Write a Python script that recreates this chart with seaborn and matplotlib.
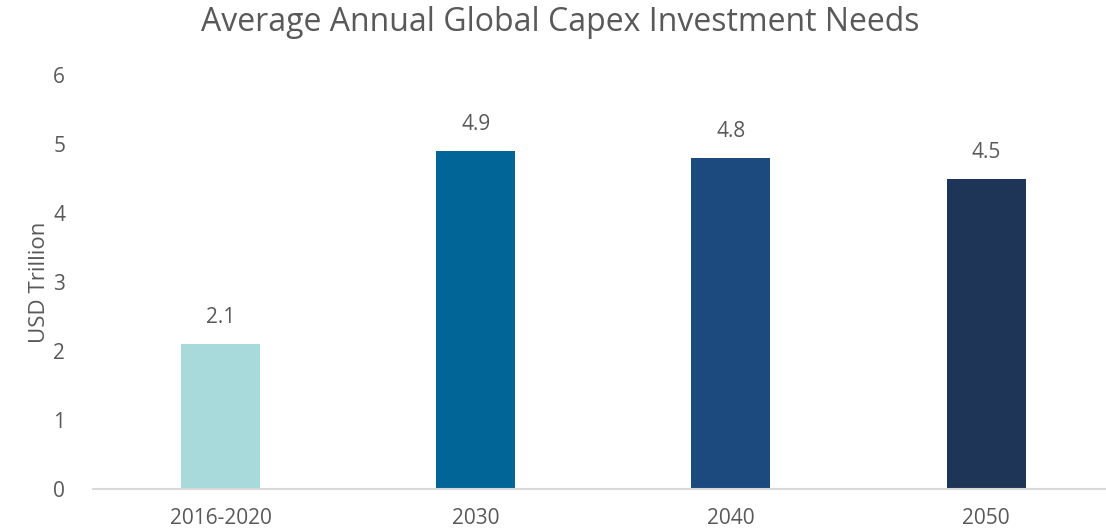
import matplotlib
matplotlib.use("Agg")
import matplotlib.pyplot as plt
import seaborn as sns
import pandas as pd

categories = ["2016-2020", "2030", "2040", "2050"]
values = [2.1, 4.9, 4.8, 4.5]
bar_colors = ["#A8DADC", "#026597", "#1C497E", "#1F3557"]
y_ticks = [0, 1, 2, 3, 4, 5, 6]

sns.set_theme(style="white")
plt.rcParams["font.family"] = ["Open Sans", "DejaVu Sans"]
text_color = "#595959"

df = pd.DataFrame({"period": categories, "usd": values})

fig = plt.figure(figsize=(11.06, 5.32), dpi=100)
ax = fig.add_axes([0.0841, 0.0808, 0.9159, 0.778])

sns.barplot(data=df, x="period", y="usd", hue="period", palette=bar_colors,
            width=0.31, legend=False, ax=ax, saturation=1, linewidth=0)

for i, v in enumerate(values):
    ax.annotate(f"{v}", (i, v), xytext=(0, 19), textcoords="offset points",
                ha="center", va="center", fontsize=15, color=text_color)

ax.set_ylim(0, 6)
ax.set_xlim(-0.5, 3.47)
ax.set_yticks(y_ticks)
ax.set_yticklabels([str(t) for t in y_ticks])
ax.tick_params(axis="both", length=0, labelsize=15, colors=text_color)
ax.tick_params(axis="x", pad=14)
ax.tick_params(axis="y", pad=20)
ax.set_xlabel("")
ax.set_ylabel("USD Trillion", fontsize=16, color=text_color, labelpad=2)
for s in ["top", "right", "left"]:
    ax.spines[s].set_visible(False)
ax.spines["bottom"].set_color("#D9D9D9")
ax.spines["bottom"].set_linewidth(1.5)

fig.text(0.507, 0.958, "Average Annual Global Capex Investment Needs",
         ha="center", va="center", fontsize=23, color=text_color)

fig.savefig("out.png", dpi=100)
